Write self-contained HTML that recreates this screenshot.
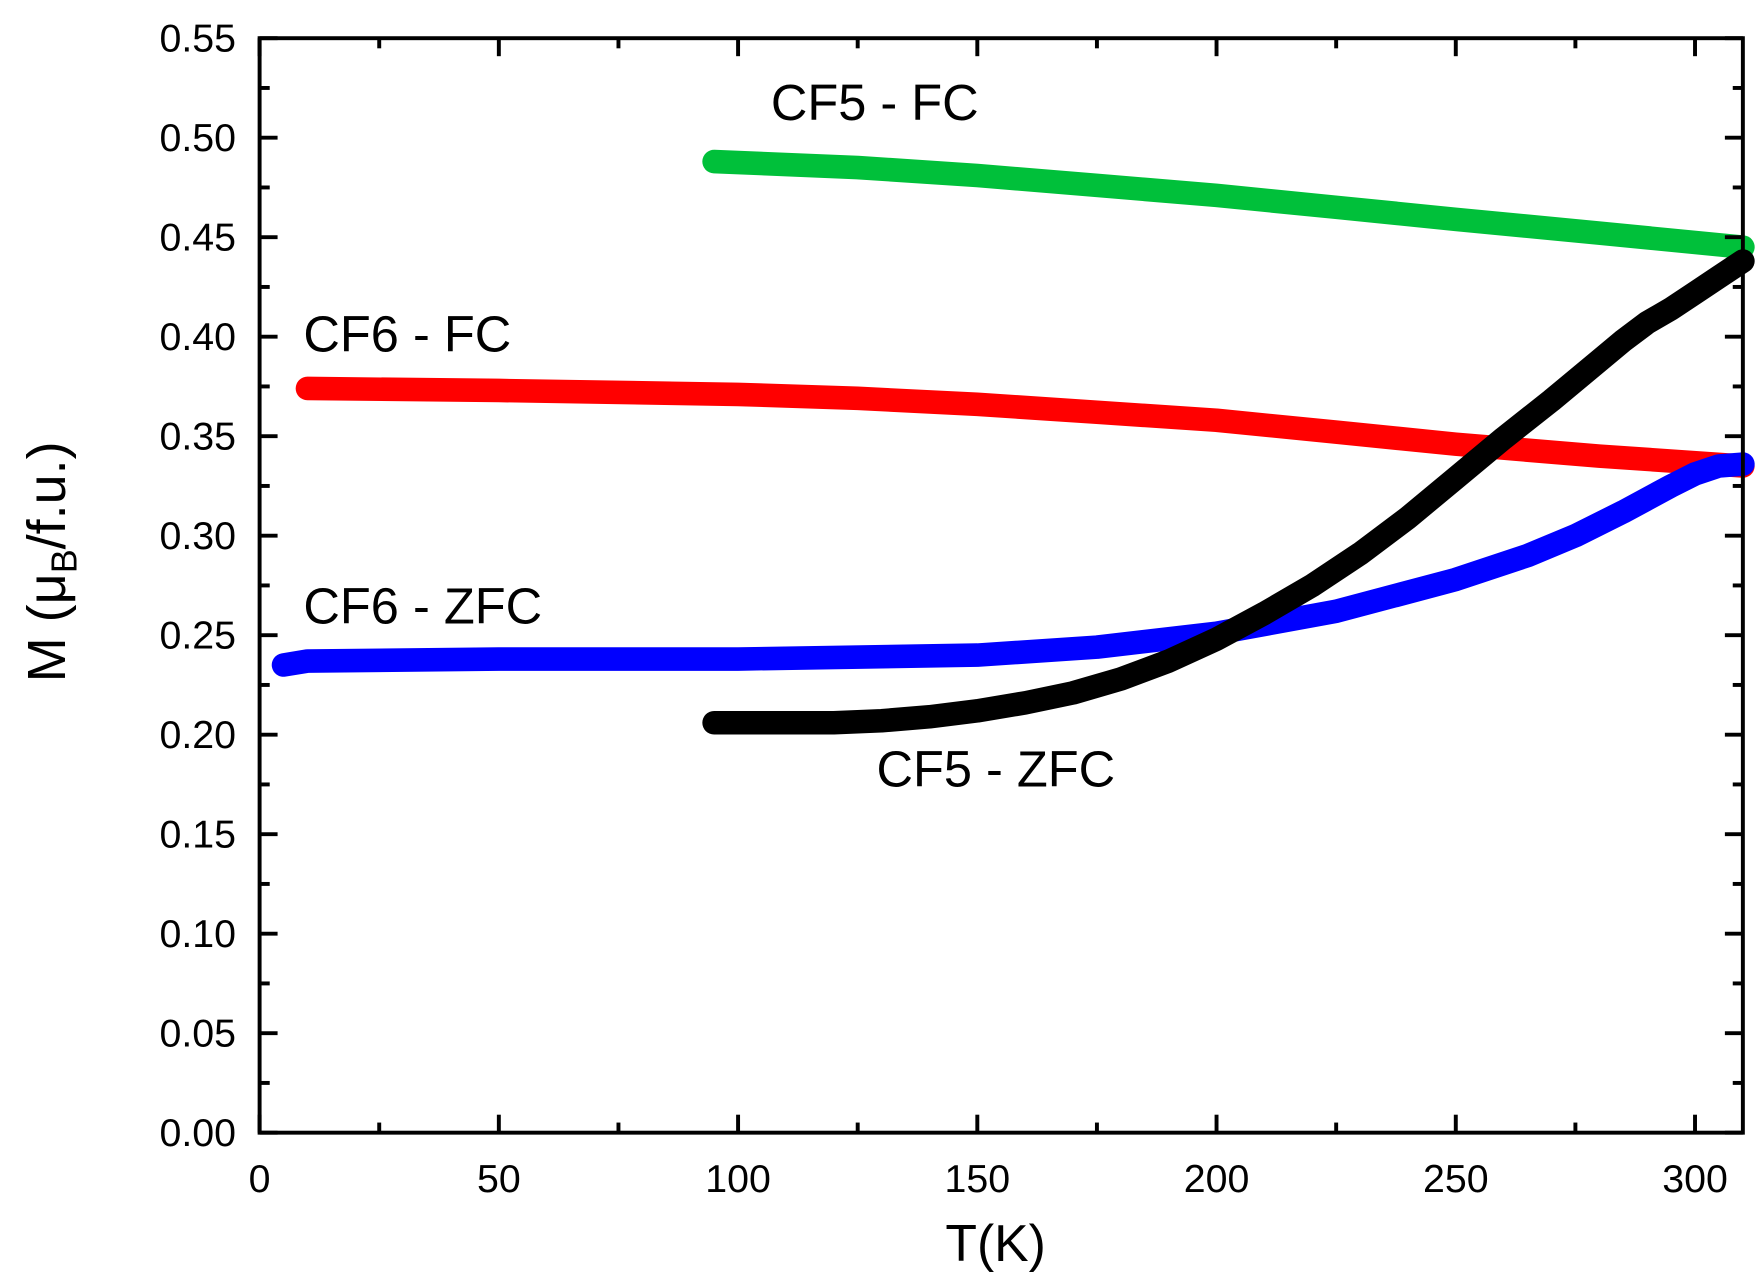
<!DOCTYPE html>
<html><head><meta charset="utf-8"><style>
html,body{margin:0;padding:0;background:#fff}
svg{display:block}
text{font-family:"Liberation Sans",Arial,sans-serif;fill:#000}
</style></head><body>
<svg id="chart" width="1762" height="1281" viewBox="0 0 1568 1140" xmlns="http://www.w3.org/2000/svg">
<g id="series"></g>
<g id="axes"></g>
<text x="686" y="107" font-size="45">CF5 - FC</text>
<text x="270" y="313" font-size="45">CF6 - FC</text>
<text x="270" y="555" font-size="45">CF6 - ZFC</text>
<text x="780" y="700" font-size="45">CF5 - ZFC</text>
<text x="886" y="1122" font-size="46" text-anchor="middle">T(K)</text>
<text transform="translate(58,500) rotate(-90)" font-size="48" text-anchor="middle">M (μ<tspan font-size="32" dy="10">B</tspan><tspan dy="-10">/f.u.)</tspan></text>
</svg>
<script>
const xTicks=[0,50,100,150,200,250,300];
const yTicks=[0,0.05,0.10,0.15,0.20,0.25,0.30,0.35,0.40,0.45,0.50,0.55];
const cf5fcT=[95,125,150,175,200,225,250,280,310];
const cf5fcM=[0.488,0.485,0.481,0.476,0.471,0.465,0.459,0.452,0.445];
const cf6fcT=[10,50,100,125,150,175,200,225,250,280,310];
const cf6fcM=[0.374,0.373,0.371,0.369,0.366,0.362,0.358,0.352,0.346,0.340,0.335];
const cf6zfcT=[5,10,50,100,150,175,200,225,250,265,275,285,295,300,305,310];
const cf6zfcM=[0.235,0.237,0.238,0.238,0.240,0.244,0.251,0.262,0.278,0.290,0.300,0.312,0.325,0.331,0.335,0.336];
const cf5zfcT=[95,120,130,140,150,160,170,180,190,200,210,220,230,240,250,260,270,280,285,290,295,300,305,310];
const cf5zfcM=[0.206,0.206,0.207,0.209,0.212,0.216,0.221,0.228,0.237,0.248,0.261,0.275,0.291,0.309,0.329,0.349,0.368,0.388,0.398,0.407,0.414,0.422,0.430,0.438];

const L=231,R=1551,T=34,B=1008,XMAX=310,YMAX=0.55;
const sx=v=>L+(v/XMAX)*(R-L);
const sy=v=>B-(v/YMAX)*(B-T);
const NS='http://www.w3.org/2000/svg';
function mk(tag,attrs,parent){const e=document.createElementNS(NS,tag);for(const k in attrs)e.setAttribute(k,attrs[k]);parent.appendChild(e);return e;}
const sg=document.getElementById('series'),ag=document.getElementById('axes');
function line(xs,ys,color,name){
  const d=xs.map((x,i)=>(i?'L':'M')+sx(x).toFixed(1)+','+sy(ys[i]).toFixed(1)).join(' ');
  const p=mk('path',{d:d,fill:'none',stroke:color,'stroke-width':21,'stroke-linecap':'round','stroke-linejoin':'round'},sg);
  
  
}
line(cf5fcT,cf5fcM,'#00c03a','series-cf5-fc');
line(cf6fcT,cf6fcM,'#ff0000','series-cf6-fc');
line(cf6zfcT,cf6zfcM,'#0000ff','series-cf6-zfc');
line(cf5zfcT,cf5zfcM,'#000000','series-cf5-zfc');

const frame=mk('rect',{x:L,y:T,width:R-L,height:B-T,fill:'none',stroke:'#000','stroke-width':3.5},ag);


for(let v=0;v<=XMAX;v+=25){
  const major=v%50===0,len=major?16:9,x=sx(v);
  mk('line',{x1:x,y1:B,x2:x,y2:B-len,stroke:'#000','stroke-width':3.5},ag);
  mk('line',{x1:x,y1:T,x2:x,y2:T+len,stroke:'#000','stroke-width':3.5},ag);
}
xTicks.forEach(v=>{
  const t=mk('text',{x:sx(v),y:1061,'font-size':35,'text-anchor':'middle'},ag);
  t.textContent=String(v);
  
  
});
for(let i=0;i<=22;i++){
  const v=i*0.025,major=i%2===0,len=major?16:9,y=sy(v);
  mk('line',{x1:L,y1:y,x2:L+len,y2:y,stroke:'#000','stroke-width':3.5},ag);
  mk('line',{x1:R,y1:y,x2:R-len,y2:y,stroke:'#000','stroke-width':3.5},ag);
}
yTicks.forEach(v=>{
  const t=mk('text',{x:210,y:sy(v)+12,'font-size':35,'text-anchor':'end'},ag);
  t.textContent=v.toFixed(2);
  
  
});
</script>
</body></html>
